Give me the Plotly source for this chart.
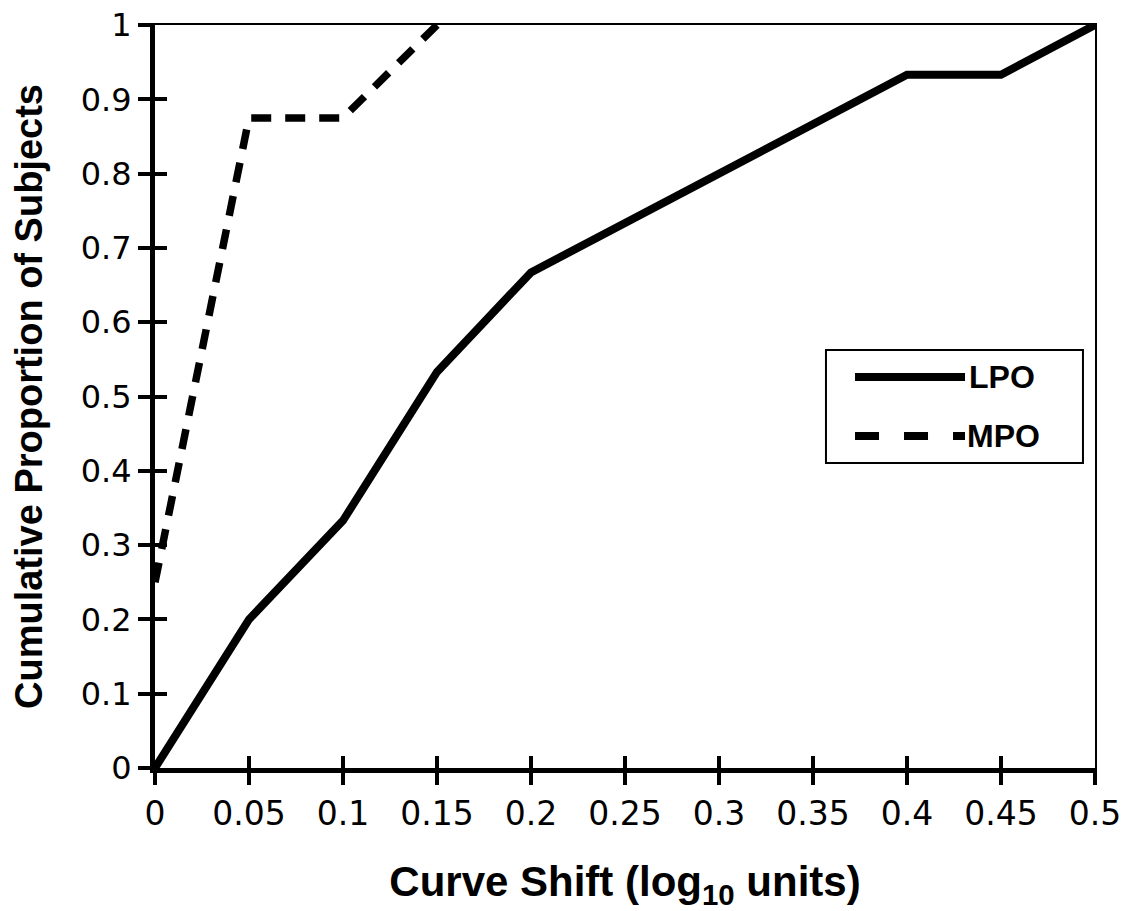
import plotly.graph_objects as go

x_ticks = [0, 0.05, 0.1, 0.15, 0.2, 0.25, 0.3, 0.35, 0.4, 0.45, 0.5]
x_labels = ["0", "0.05", "0.1", "0.15", "0.2", "0.25", "0.3", "0.35", "0.4", "0.45", "0.5"]
y_ticks = [0, 0.1, 0.2, 0.3, 0.4, 0.5, 0.6, 0.7, 0.8, 0.9, 1]
y_labels = ["0", "0.1", "0.2", "0.3", "0.4", "0.5", "0.6", "0.7", "0.8", "0.9", "1"]

series_names = ["LPO", "MPO"]
lpo_x = [0, 0.05, 0.1, 0.15, 0.2, 0.25, 0.3, 0.35, 0.4, 0.45, 0.5]
lpo_y = [0, 0.2, 0.333, 0.533, 0.667, 0.733, 0.8, 0.867, 0.933, 0.933, 1.0]

mpo_x = [0, 0.05, 0.1, 0.15]
mpo_y = [0.25, 0.875, 0.875, 1.0]

FONT = "Liberation Sans, Arial, sans-serif"
TICKFONT = "DejaVu Sans, sans-serif"

fig = go.Figure()
fig.add_trace(go.Scatter(x=lpo_x, y=lpo_y, mode="lines", name=series_names[0],
                         showlegend=False,
                         line=dict(color="black", width=8)))
fig.add_trace(go.Scatter(x=mpo_x, y=mpo_y, mode="lines", name=series_names[1],
                         showlegend=False,
                         line=dict(color="black", width=7.5, dash="20px,14px")))
# empty helper traces so the overlay axes (inner ticks, top/right frame) are drawn
fig.add_trace(go.Scatter(x=[None], y=[None], xaxis="x2", yaxis="y2", showlegend=False,
                         hoverinfo="skip"))
fig.add_trace(go.Scatter(x=[None], y=[None], xaxis="x3", yaxis="y3", showlegend=False,
                         hoverinfo="skip"))

xr = [0, 0.5]
yr = [0, 1]

# custom legend box (paper coordinates of the plot area)
shapes = [
    dict(type="rect", xref="paper", yref="paper", x0=0.7138, x1=0.9872, y0=0.4105, y1=0.5626,
         line=dict(color="black", width=2), fillcolor="white", layer="above"),
    dict(type="line", xref="paper", yref="paper", x0=0.7447, x1=0.8617, y0=0.5262, y1=0.5262,
         line=dict(color="black", width=8), layer="above"),
    dict(type="line", xref="paper", yref="paper", x0=0.7447, x1=0.8617, y0=0.4468, y1=0.4468,
         line=dict(color="black", width=8, dash="24px,25px"), layer="above"),
]
annotations = [
    dict(xref="paper", yref="paper", x=0.8640, y=0.5262, xanchor="left", yanchor="middle",
         text="<b>" + series_names[0] + "</b>", showarrow=False,
         font=dict(family=FONT, size=32, color="black")),
    dict(xref="paper", yref="paper", x=0.8620, y=0.4468, xanchor="left", yanchor="middle",
         text="<b>" + series_names[1] + "</b>", showarrow=False,
         font=dict(family=FONT, size=32, color="black")),
]

fig.update_layout(
    width=1131, height=911,
    margin=dict(l=155, r=36, t=25, b=143, autoexpand=False),
    paper_bgcolor="white", plot_bgcolor="white",
    font=dict(family=FONT, color="black", size=32),
    showlegend=False,
    shapes=shapes,
    annotations=annotations,
    xaxis=dict(range=xr, tickvals=x_ticks, ticktext=x_labels, automargin=False,
               ticklabeloverflow="allow",
               showgrid=False, zeroline=False, showline=True, linecolor="black",
               linewidth=5, ticks="outside", ticklen=12, tickwidth=4, tickcolor="black",
               tickfont=dict(size=33, family=TICKFONT),
               title=dict(text="<b>Curve Shift (log<sub>10</sub> units)</b>",
                          font=dict(size=42, family=FONT), standoff=47)),
    yaxis=dict(range=yr, tickvals=y_ticks, ticktext=y_labels, automargin=False,
               ticklabeloverflow="allow",
               showgrid=False, zeroline=False, showline=True, linecolor="black",
               linewidth=5, ticks="outside", ticklen=12, tickwidth=4, tickcolor="black",
               tickfont=dict(size=32, family=TICKFONT),
               title=dict(text="<b>Cumulative Proportion of Subjects</b>",
                          font=dict(size=38, family=FONT), standoff=28)),
    xaxis2=dict(overlaying="x", side="bottom", anchor="y", range=xr, tickvals=x_ticks,
                automargin=False,
                showticklabels=False, showgrid=False, zeroline=False, showline=False,
                ticks="inside", ticklen=12, tickwidth=4, tickcolor="black"),
    yaxis2=dict(overlaying="y", side="left", anchor="x", range=yr, tickvals=y_ticks,
                automargin=False,
                showticklabels=False, showgrid=False, zeroline=False, showline=False,
                ticks="inside", ticklen=12, tickwidth=4, tickcolor="black"),
    xaxis3=dict(overlaying="x", side="top", anchor="y", range=xr, automargin=False,
                showticklabels=False, showgrid=False, zeroline=False, showline=True,
                linecolor="black", linewidth=2, ticks=""),
    yaxis3=dict(overlaying="y", side="right", anchor="x", range=yr, automargin=False,
                showticklabels=False, showgrid=False, zeroline=False, showline=True,
                linecolor="black", linewidth=2, ticks=""),
)

fig.write_html("out.html", config={"displayModeBar": False},
               post_script="document.body.style.margin='0';document.body.style.overflow='hidden';")
